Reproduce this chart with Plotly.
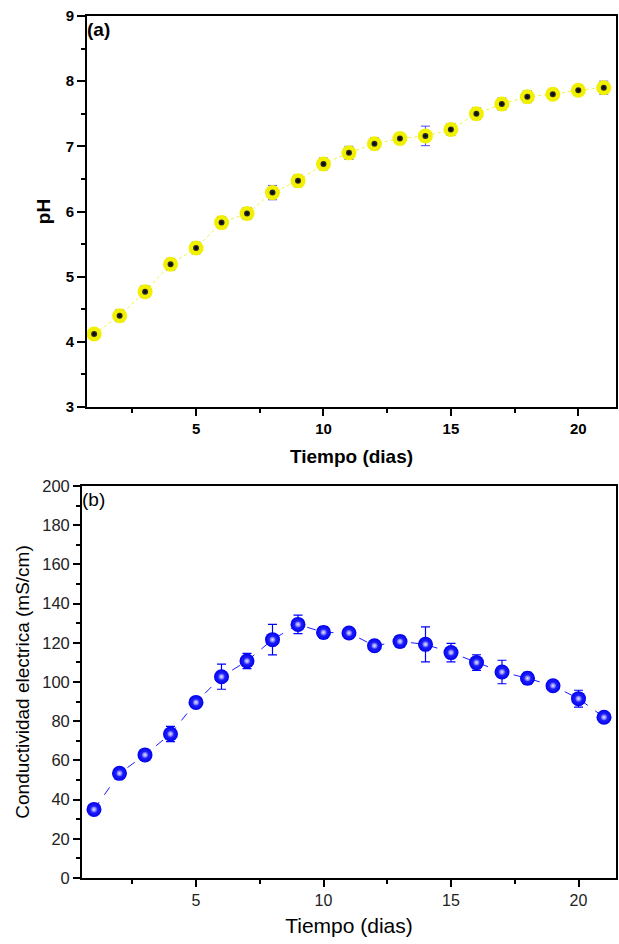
import plotly.graph_objects as go

days = list(range(1, 22))
ph_values = [4.12, 4.40, 4.77, 5.19, 5.44, 5.83, 5.97, 6.29, 6.47, 6.73, 6.90,
             7.04, 7.12, 7.16, 7.26, 7.50, 7.65, 7.76, 7.80, 7.86, 7.90]
ph_errors = [0.06, 0.09, 0.09, 0.09, 0.09, 0.09, 0.09, 0.11, 0.09, 0.09, 0.10,
             0.09, 0.08, 0.15, 0.09, 0.09, 0.09, 0.09, 0.08, 0.08, 0.10]
ce_values = [35.0, 53.4, 62.8, 73.5, 89.6, 102.7, 110.7, 121.6, 129.4, 125.3, 125.0,
             118.5, 120.7, 119.2, 115.0, 109.9, 105.1, 101.9, 98.1, 91.5, 82.0]
ce_errors = [1.5, 2.0, 1.5, 3.9, 2.0, 6.4, 3.9, 7.8, 4.7, 3.0, 1.5,
             1.5, 3.0, 8.9, 4.7, 4.0, 6.0, 3.0, 1.5, 4.3, 1.5]

W, H = 619, 944
fig = go.Figure()

# panel (a)
fig.add_trace(go.Scatter(
    x=days, y=ph_values, mode="lines+markers",
    line=dict(color="#f2f23a", width=1, dash="dot"),
    marker=dict(size=15, color="#f0f000", line=dict(width=0)),
    error_y=dict(type="data", array=ph_errors, color="#4a4aff", thickness=1, width=4.5),
    xaxis="x", yaxis="y", showlegend=False))
fig.add_trace(go.Scatter(
    x=days, y=ph_values, mode="markers",
    marker=dict(size=6, color="#333333", line=dict(width=0),
                gradient=dict(type="radial", color="#000000")),
    xaxis="x", yaxis="y", showlegend=False, hoverinfo="skip"))

# panel (b)
fig.add_trace(go.Scatter(
    x=days, y=ce_values, mode="lines+markers",
    line=dict(color="#1a1aff", width=1, dash="dash"),
    marker=dict(size=15, color="#0000f0", line=dict(width=0),
                gradient=dict(type="radial", color="#3a3aff")),
    error_y=dict(type="data", array=ce_errors, color="#0000ff", thickness=1.2, width=4.5),
    xaxis="x2", yaxis="y2", showlegend=False))
fig.add_trace(go.Scatter(
    x=days, y=ce_values, mode="markers",
    marker=dict(size=6, color="#5555ff", line=dict(width=0),
                gradient=dict(type="radial", color="#e8e8ff")),
    xaxis="x2", yaxis="y2", showlegend=False, hoverinfo="skip"))

axis_common = dict(showgrid=False, zeroline=False, showline=True, linecolor="black",
                   linewidth=1.8, mirror=True, ticks="outside", tickcolor="black",
                   tickwidth=1.5, automargin=False)

fig.update_layout(
    width=W, height=H, plot_bgcolor="white", paper_bgcolor="white",
    margin=dict(l=0, r=0, t=0, b=0),
    xaxis=dict(domain=[87 / W, 616 / W], anchor="y", range=[0.72, 21.48],
               tickvals=[5, 10, 15, 20], ticklen=7,
               minor=dict(tickvals=[2.5, 7.5, 12.5, 17.5], ticks="outside", ticklen=4, tickcolor="black", tickwidth=1.5),
               tickfont=dict(family="Liberation Sans", size=15, color="black", weight="bold"),
               title=dict(text="<b>Tiempo (dias)</b>", standoff=14,
                          font=dict(family="Liberation Sans", size=19, color="black")),
               **axis_common),
    yaxis=dict(domain=[1 - 407 / H, 1 - 16 / H], anchor="x", range=[3, 9],
               tickvals=[3, 4, 5, 6, 7, 8, 9], ticklen=8,
               minor=dict(tickvals=[3.5, 4.5, 5.5, 6.5, 7.5, 8.5], ticks="outside", ticklen=4, tickcolor="black", tickwidth=1.5),
               tickfont=dict(family="Liberation Sans", size=15, color="black", weight="bold"),
               title=dict(text="<b>pH</b>", standoff=10,
                          font=dict(family="Liberation Sans", size=19, color="black")),
               **axis_common),
    xaxis2=dict(domain=[82 / W, 616 / W], anchor="y2", range=[0.53, 21.47],
                tickvals=[5, 10, 15, 20], ticklen=7,
                minor=dict(tickvals=[2.5, 7.5, 12.5, 17.5], ticks="outside", ticklen=4, tickcolor="black", tickwidth=1.5),
                tickfont=dict(family="Liberation Sans", size=16, color="#222222"),
                title=dict(text="Tiempo (dias)", standoff=10,
                           font=dict(family="Liberation Sans", size=21, color="black")),
                **axis_common),
    yaxis2=dict(domain=[1 - 878 / H, 1 - 486 / H], anchor="x2", range=[0, 200],
                tickvals=list(range(0, 201, 20)), ticklen=7,
                minor=dict(tickvals=list(range(10, 200, 20)), ticks="outside", ticklen=4, tickcolor="black", tickwidth=1.5),
                tickfont=dict(family="Liberation Sans", size=16.5, color="#222222"),
                title=dict(text="Conductividad electrica (mS/cm)", standoff=8,
                           font=dict(family="Liberation Sans", size=19, color="black")),
                **axis_common),
    annotations=[
        dict(text="<b>(a)</b>", xref="x domain", yref="y domain", x=-0.004, y=0.997,
             xanchor="left", yanchor="top", showarrow=False,
             font=dict(family="Liberation Sans", size=19, color="black")),
        dict(text="(b)", xref="x2 domain", yref="y2 domain", x=-0.004, y=0.997,
             xanchor="left", yanchor="top", showarrow=False,
             font=dict(family="Liberation Sans", size=19, color="black")),
    ],
)

fig.write_html("out.html", config={"displayModeBar": False},
               post_script="document.body.style.margin='0px';document.body.style.overflow='hidden';")
